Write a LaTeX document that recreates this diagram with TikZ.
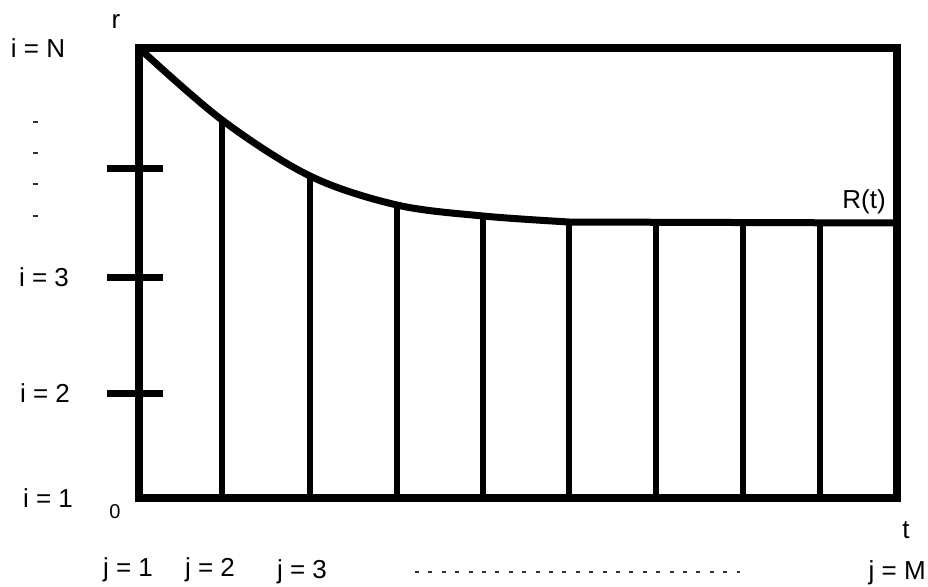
\documentclass[tikz,border=0pt]{standalone}
\usepackage{fontspec}
\setmainfont{Liberation Sans}
\begin{document}
\begin{tikzpicture}[x=1pt,y=-1pt,
  boxline/.style={line width=8pt},
  gridline/.style={line width=6.5pt},
  curveline/.style={line width=7pt, line join=round},
  tickline/.style={line width=7pt},
  lbl/.style={inner sep=0pt, font=\fontsize{26}{30}\selectfont},
  dotline/.style={line width=2.2pt, dash pattern=on 4pt off 9.4pt, color=black!80}]
\useasboundingbox (0,0) rectangle (928,586);
% box corners
\coordinate (O) at (139,498);
\coordinate (TL) at (139,48);
\coordinate (TR) at (897,48);
\coordinate (BR) at (897,498);
\coordinate (F) at (897,223);
% curve points
\coordinate (T1) at (222,120);
\coordinate (T2) at (310,176);
\coordinate (T3) at (397,205);
\coordinate (T4) at (483,216);
\coordinate (T5) at (569,222);
\coordinate (T6) at (656,223);
\coordinate (T7) at (743,223);
\coordinate (T8) at (820,223);
% bottom points
\coordinate (B1) at (222,498);
\coordinate (B2) at (310,498);
\coordinate (B3) at (397,498);
\coordinate (B4) at (483,498);
\coordinate (B5) at (569,498);
\coordinate (B6) at (656,498);
\coordinate (B7) at (743,498);
\coordinate (B8) at (820,498);
% vertical grid lines
\foreach \k in {1,...,8} \draw[gridline] (B\k) -- (T\k);
% curve R(t)
\draw[curveline] plot[smooth, tension=0.55] coordinates {(TL) (T1) (T2) (T3) (T4) (T5)} -- (F);
% box
\draw[boxline] (O) -- (TL) -- (TR) -- (BR) -- cycle;
% ticks
\coordinate (k1a) at (107,168); \coordinate (k1b) at (163,168);
\coordinate (k2a) at (107,277); \coordinate (k2b) at (163,277);
\coordinate (k3a) at (107,393); \coordinate (k3b) at (163,393);
\draw[tickline] (k1a) -- (k1b);
\draw[tickline] (k2a) -- (k2b);
\draw[tickline] (k3a) -- (k3b);
% labels
\node[lbl] (r) at (116,22) {r};
\node[lbl] (iN) at (38,48) {i = N};
\node[lbl] (i3) at (44,277) {i = 3};
\node[lbl] (i2) at (45,393) {i = 2};
\node[lbl] (i1) at (48,498) {i = 1};
\node[inner sep=0pt, font=\fontsize{20}{24}\selectfont] (zero) at (115,512) {0};
\node[lbl] (t) at (906,530) {t};
\node[lbl] (Rt) at (864,202) {R(t)};
\node[lbl, anchor=base] (j1) at (128,576) {j = 1};
\node[lbl, anchor=base] (j2) at (210,576) {j = 2};
\node[lbl, anchor=base] (j3) at (302,578) {j = 3};
\node[lbl, anchor=base east] (jM) at (926,579) {j = M};
% vertical dots
\foreach \yy [count=\n] in {122,153,184,216}
  \coordinate (d\n) at (35,\yy);
\foreach \n in {1,...,4}
  \draw[line width=2pt, black!80] ([xshift=-2.5pt]d\n) -- ([xshift=2.5pt]d\n);
% horizontal dots
\coordinate (h1) at (415,572);
\coordinate (h2) at (740,572);
\draw[dotline] (h1) -- (h2);
\end{tikzpicture}
\end{document}
